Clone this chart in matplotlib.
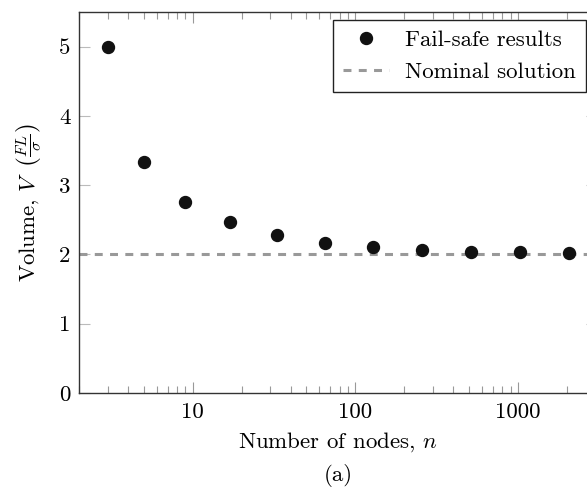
import matplotlib
matplotlib.use("Agg")
import matplotlib.pyplot as plt
from matplotlib.ticker import LogLocator, NullFormatter

plt.rcParams["font.family"] = "cmr10"
plt.rcParams["mathtext.fontset"] = "cm"
plt.rcParams["axes.formatter.use_mathtext"] = True

# fail-safe volume vs. number of nodes
nodes = [3, 5, 9, 17, 33, 65, 129, 257, 513, 1025, 2049]
volume = [5.0, 3.33, 2.76, 2.47, 2.28, 2.17, 2.11, 2.07, 2.04, 2.03, 2.02]
nominal = 2.0

x_ticks = [10, 100, 1000]
x_ticklabels = ["10", "100", "1000"]
y_ticks = [0, 1, 2, 3, 4, 5]

FS = 16.5

fig = plt.figure(figsize=(5.87, 4.94), dpi=100)
ax = fig.add_axes([79 / 587, 1 - 393 / 494, (597 - 79) / 587, (393 - 12) / 494])

ax.axhline(nominal, color="#999999", lw=2.2, ls=(0, (2.6, 2.4)),
           label="Nominal solution", zorder=2)
ax.plot(nodes, volume, ls="none", marker="o", ms=8.6, color="#111111",
        label="Fail-safe results", zorder=3)

ax.set_xscale("log")
ax.set_xlim(2, 3050)
ax.set_ylim(0, 5.5)
ax.set_xticks(x_ticks, x_ticklabels)
ax.xaxis.set_minor_locator(LogLocator(base=10, subs=range(2, 10), numticks=20))
ax.xaxis.set_minor_formatter(NullFormatter())
ax.set_yticks(y_ticks, [str(v) for v in y_ticks])

for s in ax.spines.values():
    s.set_color("#333333")
    s.set_linewidth(1.0)

ax.tick_params(axis="x", which="major", direction="in", length=8, width=0.8,
               color="#999999", top=True, labelsize=FS, pad=7)
ax.tick_params(axis="x", which="minor", direction="in", length=5, width=0.8,
               color="#999999", top=True)
ax.tick_params(axis="y", which="major", direction="in", length=8, width=0.8,
               color="#bbbbbb", right=True, labelsize=FS, pad=6)

ax.set_xlabel("Number of nodes, $n$", fontsize=FS, labelpad=6)
ax.set_ylabel(r"Volume, $V\;\;\left(\frac{FL}{\sigma}\right)$", fontsize=FS,
              labelpad=10)

handles, labels = ax.get_legend_handles_labels()
leg = ax.legend(handles[::-1], labels[::-1], loc="upper right",
                bbox_to_anchor=(1 - 11 / 518, 1 - 8 / 381), borderaxespad=0,
                fontsize=FS, fancybox=False, framealpha=1, edgecolor="#222222",
                handlelength=2.0, handletextpad=0.7, borderpad=0.45,
                labelspacing=0.5)
leg.get_frame().set_linewidth(1.0)

fig.text(338 / 587, 1 - 475 / 494, "(a)", ha="center", va="center", fontsize=FS)

fig.savefig("out.png", dpi=100)
plt.close(fig)
